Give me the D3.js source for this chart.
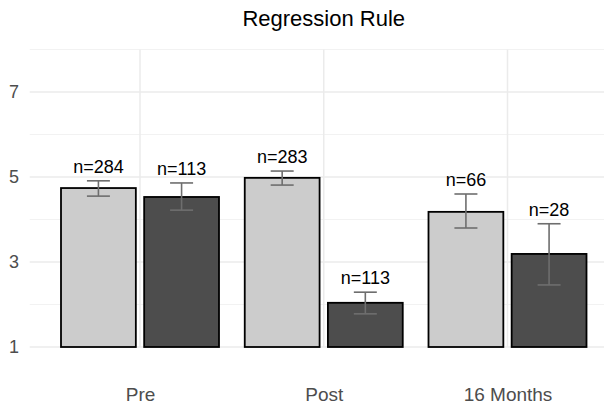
<!DOCTYPE html>
<meta charset="utf-8">

<script src="https://d3js.org/d3.v7.min.js"></script>

<style type="text/css">
body { margin: 0; background: #fff; }
text { font-family: "Liberation Sans", Arial, Helvetica, sans-serif; }
</style>

<body></body>

<script>

// Data
var categories = ["Pre", "Post", "16 Months"];
var groups = ["Group 1", "Group 2"];

var means1 = [4.74, 4.98, 4.18];
var lower1 = [4.55, 4.81, 3.80];
var upper1 = [4.91, 5.14, 4.60];
var n1 = [284, 283, 66];

var means2 = [4.53, 2.04, 3.19];
var lower2 = [4.22, 1.78, 2.46];
var upper2 = [4.86, 2.29, 3.90];
var n2 = [113, 113, 28];

var yTicks = [1, 3, 5, 7];
var yMinor = [2, 4, 6, 8];

var width = 604, height = 411;

var svg = d3.select("body").append("svg")
    .attr("width", width)
    .attr("height", height);

// scales
var xScale = d3.scalePoint()
  .domain(categories)
  .range([140, 507.5]);

var step = xScale.step();
var panelLeft = xScale(categories[0]) - 0.6 * step,
    panelRight = xScale(categories[categories.length - 1]) + 0.6 * step;

var subScale = d3.scaleBand()
  .domain(groups)
  .range([-79, 79])
  .paddingInner(0.1);

var yScale = d3.scaleLinear()
  .domain([1, 8])
  .range([347, 49.5]);

var fills = {"Group 1": "#cccccc", "Group 2": "#4d4d4d"};

// rows
var rows = [];
categories.forEach(function(c, i) {
  rows.push({cat: c, group: groups[0], mean: means1[i], lo: lower1[i], hi: upper1[i], n: n1[i]});
  rows.push({cat: c, group: groups[1], mean: means2[i], lo: lower2[i], hi: upper2[i], n: n2[i]});
});

// grid
var grid = svg.append("g");

grid.selectAll(".minor")
  .data(yMinor)
  .enter().append("line")
  .attr("x1", panelLeft).attr("x2", panelRight)
  .attr("y1", d => yScale(d)).attr("y2", d => yScale(d))
  .attr("stroke", "#f2f2f2")
  .attr("stroke-width", 1);

grid.selectAll(".major")
  .data(yTicks)
  .enter().append("line")
  .attr("x1", panelLeft).attr("x2", panelRight)
  .attr("y1", d => yScale(d)).attr("y2", d => yScale(d))
  .attr("stroke", "#ebebeb")
  .attr("stroke-width", 1.5);

grid.selectAll(".vmajor")
  .data(categories)
  .enter().append("line")
  .attr("x1", d => xScale(d)).attr("x2", d => xScale(d))
  .attr("y1", yScale(1)).attr("y2", yScale(8))
  .attr("stroke", "#ebebeb")
  .attr("stroke-width", 1.5);

// axes (text only, like theme_minimal)
var yAxis = d3.axisLeft(yScale).tickValues(yTicks).tickFormat(d3.format("d")).tickSize(0).tickPadding(0);
var yAxisGroup = svg.append("g")
  .attr("transform", "translate(19,0)")
  .call(yAxis);
yAxisGroup.select(".domain").remove();
yAxisGroup.selectAll("text")
  .attr("fill", "#4d4d4d")
  .style("font-size", "18px")
  .style("font-family", "'Liberation Sans', Arial, sans-serif");

var xAxis = d3.axisBottom(xScale).tickSize(0).tickPadding(0);
var xAxisGroup = svg.append("g")
  .attr("transform", "translate(0,387)")
  .call(xAxis);
xAxisGroup.select(".domain").remove();
xAxisGroup.selectAll("text")
  .attr("fill", "#4d4d4d")
  .attr("dy", "0.71em")
  .style("font-size", "19px")
  .style("font-family", "'Liberation Sans', Arial, sans-serif");

// bars
svg.selectAll(".bar")
  .data(rows)
  .enter().append("rect")
  .attr("class", "bar")
  .attr("x", d => xScale(d.cat) + subScale(d.group))
  .attr("y", d => yScale(d.mean))
  .attr("width", subScale.bandwidth())
  .attr("height", d => yScale(1) - yScale(d.mean))
  .attr("fill", d => fills[d.group])
  .attr("stroke", "#000")
  .attr("stroke-width", 1.8);

// error bars
var cap = 11.5;
var err = svg.selectAll(".err")
  .data(rows)
  .enter().append("g")
  .attr("class", "err")
  .attr("transform", d => `translate(${xScale(d.cat) + subScale(d.group) + subScale.bandwidth() / 2},0)`)
  .attr("stroke", "#6e6e6e")
  .attr("stroke-width", 1.6);

err.append("line").attr("x1", 0).attr("x2", 0)
  .attr("y1", d => yScale(d.lo)).attr("y2", d => yScale(d.hi));
err.append("line").attr("x1", -cap).attr("x2", cap)
  .attr("y1", d => yScale(d.lo)).attr("y2", d => yScale(d.lo));
err.append("line").attr("x1", -cap).attr("x2", cap)
  .attr("y1", d => yScale(d.hi)).attr("y2", d => yScale(d.hi));

// n labels
svg.selectAll(".nlab")
  .data(rows)
  .enter().append("text")
  .attr("x", d => xScale(d.cat) + subScale(d.group) + subScale.bandwidth() / 2)
  .attr("y", d => yScale(d.hi) - 8)
  .attr("text-anchor", "middle")
  .style("font-size", "18px")
  .attr("fill", "#000")
  .text(d => "n=" + d.n);

// title
svg.append("text")
  .attr("x", (panelLeft + panelRight) / 2)
  .attr("y", 26)
  .attr("text-anchor", "middle")
  .style("font-size", "22px")
  .attr("fill", "#000")
  .text("Regression Rule");

</script>
